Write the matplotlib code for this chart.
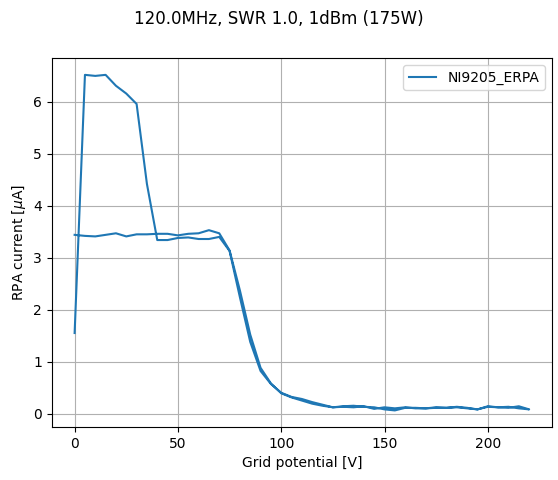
import numpy as np
import matplotlib
matplotlib.use("Agg")
import matplotlib.pyplot as plt

# grid potential sweep, 5 V steps
volts = np.arange(0, 225, 5)

# up sweep (0 -> 220 V)
up_current = [1.55, 6.52, 6.50, 6.52, 6.31, 6.16, 5.96, 4.42, 3.34, 3.34,
              3.38, 3.39, 3.36, 3.36, 3.40, 3.13, 2.24, 1.38, 0.82, 0.57,
              0.40, 0.32, 0.28, 0.22, 0.17, 0.12, 0.14, 0.15, 0.13, 0.12,
              0.08, 0.06, 0.11, 0.11, 0.10, 0.11, 0.11, 0.12, 0.10, 0.08,
              0.14, 0.12, 0.11, 0.14, 0.08]

# down sweep (listed from 0 V upwards, drawn 220 -> 0 V)
down_current = [3.44, 3.42, 3.41, 3.44, 3.47, 3.41, 3.45, 3.45, 3.46, 3.46,
                3.43, 3.46, 3.47, 3.53, 3.47, 3.14, 2.37, 1.52, 0.88, 0.58,
                0.39, 0.31, 0.25, 0.19, 0.15, 0.12, 0.13, 0.12, 0.14, 0.09,
                0.12, 0.10, 0.12, 0.10, 0.10, 0.12, 0.11, 0.13, 0.11, 0.08,
                0.13, 0.12, 0.13, 0.10, 0.08]

x = np.concatenate([volts, volts[::-1][1:]])
y = np.concatenate([up_current, down_current[::-1][1:]])

fig, ax = plt.subplots(figsize=(5.58, 4.8), dpi=100)
fig.subplots_adjust(left=0.093, right=0.989, bottom=0.110, top=0.879)

ax.plot(x, y, label="NI9205_ERPA")
ax.set_xlabel("Grid potential [V]")
ax.set_ylabel(r"RPA current [$\mu$A]")
ax.grid(True)
ax.legend(loc="upper right")
fig.suptitle("120.0MHz, SWR 1.0, 1dBm (175W)")

fig.savefig("out.png")
